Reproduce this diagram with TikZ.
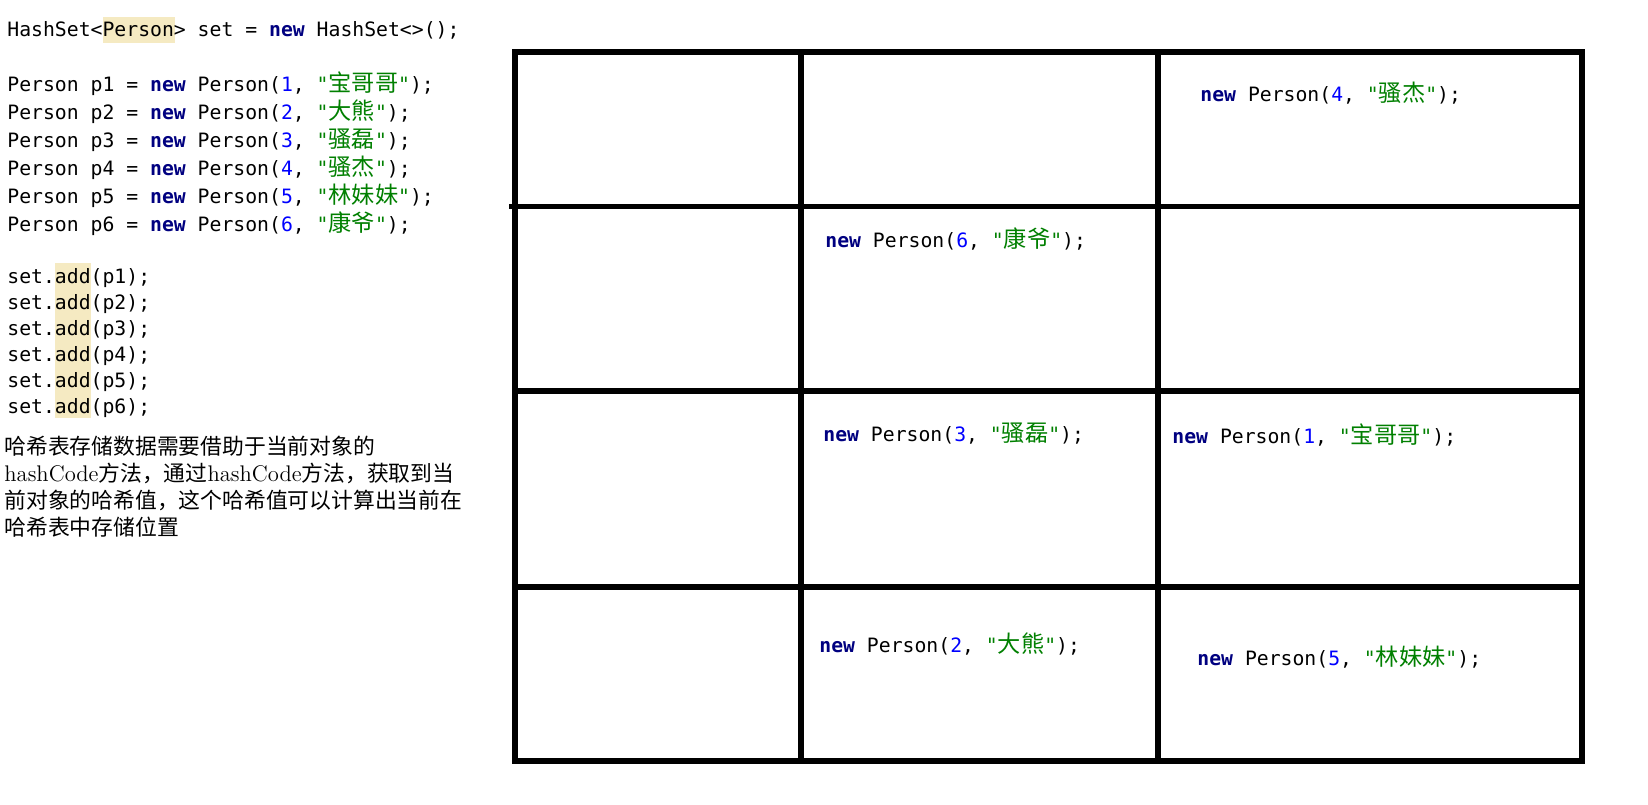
\documentclass[tikz,border=0pt]{standalone}
\usepackage{fontspec}
\newfontfamily\codefont{DejaVu Sans Mono}
\newfontfamily\cjk{Noto Sans CJK SC}

\definecolor{kwnavy}{HTML}{000080}
\definecolor{numblue}{HTML}{0000FF}
\definecolor{strgreen}{HTML}{008000}
\definecolor{hlyellow}{HTML}{F5EAC2}

\newcommand{\jkw}[1]{{\color{kwnavy}\bfseries #1}}
\newcommand{\jnum}[1]{{\color{numblue}#1}}
\newcommand{\jstr}[1]{{\color{strgreen}"{\cjk\fontsize{11.6pt}{12pt}\selectfont #1}"}}
\newcommand{\newperson}[2]{\jkw{new} Person(\jnum{#1}, \jstr{#2});}
\newcommand{\hc}{{\rmfamily\fontsize{11.3pt}{12pt}\selectfont hashCode}}

\begin{document}
\begin{tikzpicture}[x=0.5pt,y=-0.5pt,
    code/.style={anchor=base west,inner sep=0pt,font=\codefont\fontsize{9.88pt}{12pt}\selectfont},
    desc/.style={anchor=base west,inner sep=0pt,font=\cjk\fontsize{10.9pt}{13pt}\selectfont},
    gridline/.style={line width=2.6pt,line cap=rect}]
  \tikzstyle{hlbox}=[fill=hlyellow]

  \fill[white] (0,0) rectangle (1648,804);
  \useasboundingbox (0,0) rectangle (1648,804);

  % highlights behind the code
  \fill[hlbox] (103,17) rectangle (175,43);
  \fill[hlbox] (55,263) rectangle (91,418);

  % declaration
  \node[code] (decl) at (7,36.7) {HashSet<Person> set = \jkw{new} HashSet<>();};

  % the six persons
  \foreach \i/\nm in {1/宝哥哥,2/大熊,3/骚磊,4/骚杰,5/林妹妹,6/康爷}
    \node[code] (p_\i) at (7,{91.7+28*(\i-1)}) {Person p\i{} = \newperson{\i}{\nm}};

  % adding them
  \foreach \i in {1,...,6}
    \node[code] (add_\i) at (7,{283.3+26*(\i-1)}) {set.add(p\i);};

  % explanation
  \foreach \t [count=\k] in {哈希表存储数据需要借助于当前对象的,\hc 方法，通过\hc 方法，获取到当,前对象的哈希值，这个哈希值可以计算出当前在,哈希表中存储位置}
    \node[desc] (txt_\k) at (4,{454+27*(\k-1)}) {\t};

  % hash table
  \draw[gridline] (515,52) rectangle (1582,761);
  \draw[gridline] (512,206.5) -- (1582,206.5);
  \draw[gridline] (515,391) -- (1582,391);
  \draw[gridline] (515,587) -- (1582,587);
  \draw[gridline] (801,52) -- (801,761);
  \draw[gridline] (1158,52) -- (1158,761);

  % stored objects
  \node[code] (cell_4) at (1200,101) {\newperson{4}{骚杰}};
  \node[code] (cell_6) at (825,247.3) {\newperson{6}{康爷}};
  \node[code] (cell_3) at (823,441.7) {\newperson{3}{骚磊}};
  \node[code] (cell_1) at (1172,443.3) {\newperson{1}{宝哥哥}};
  \node[code] (cell_2) at (819,652.3) {\newperson{2}{大熊}};
  \node[code] (cell_5) at (1197,665.3) {\newperson{5}{林妹妹}};
\end{tikzpicture}
\end{document}
